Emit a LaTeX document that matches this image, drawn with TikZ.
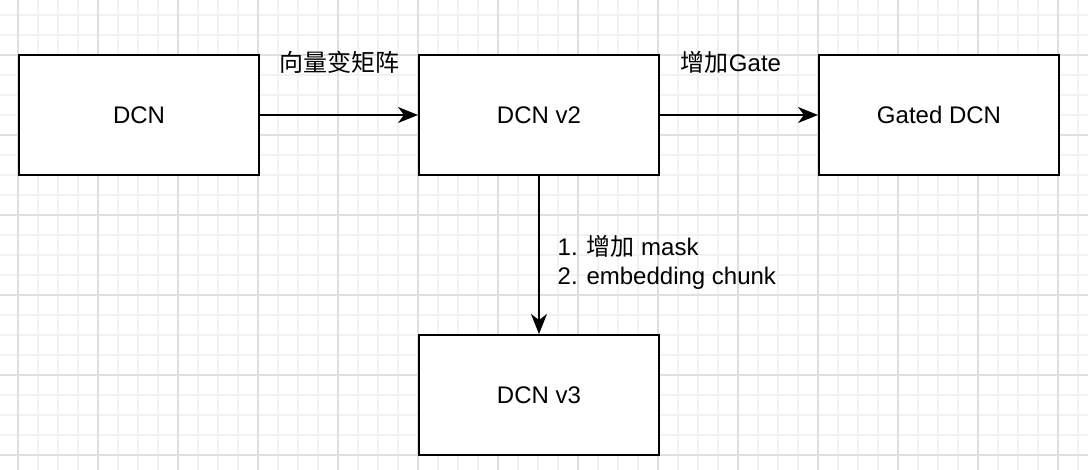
\documentclass[tikz,border=0pt]{standalone}
\usepackage{fontspec}
\setmainfont{Liberation Sans}
\newfontfamily\cjk{Noto Sans CJK SC}
\usetikzlibrary{arrows.meta}

\begin{document}
\begin{tikzpicture}[x=0.5pt,y=-0.5pt,
  block/.style={draw,line width=1pt,fill=white,minimum width=120pt,minimum height=60pt,font=\fontsize{12}{14}\selectfont},
  flow/.style={line width=1pt,-{Stealth[length=10pt,width=8pt,inset=3pt]}},
  lbl/.style={font=\fontsize{12}{14.5}\selectfont}]

\useasboundingbox (0,0) rectangle (1088,470);

% grid
\foreach \x in {-2,18,...,1098} \draw[gray!10,line width=0.6pt] (\x,0) -- (\x,470);
\foreach \y in {-5,15,...,475} \draw[gray!10,line width=0.6pt] (0,\y) -- (1088,\y);
\foreach \x in {18,98,...,1058} \draw[gray!25,line width=0.6pt] (\x,0) -- (\x,470);
\foreach \y in {55,135,...,455} \draw[gray!25,line width=0.6pt] (0,\y) -- (1088,\y);

\node[block] (dcn) at (139,115) {DCN};
\node[block] (dcnvtwo) at (539,115) {DCN v2};
\node[block] (gated) at (939,115) {Gated DCN};
\node[block] (dcnvthree) at (539,395) {DCN v3};

\draw[flow] (dcn) -- node[lbl,midway,yshift=26.5pt] {\cjk 向量变矩阵} (dcnvtwo);
\draw[flow] (dcnvtwo) -- node[lbl,midway,yshift=26.5pt,xshift=-4pt] {{\cjk 增加}Gate} (gated);
\draw[flow] (dcnvtwo) -- node[lbl,midway,right,align=left,xshift=5.5pt,yshift=-3.75pt] {1. {\cjk 增加} mask\\2. embedding chunk} (dcnvthree);

\end{tikzpicture}
\end{document}
